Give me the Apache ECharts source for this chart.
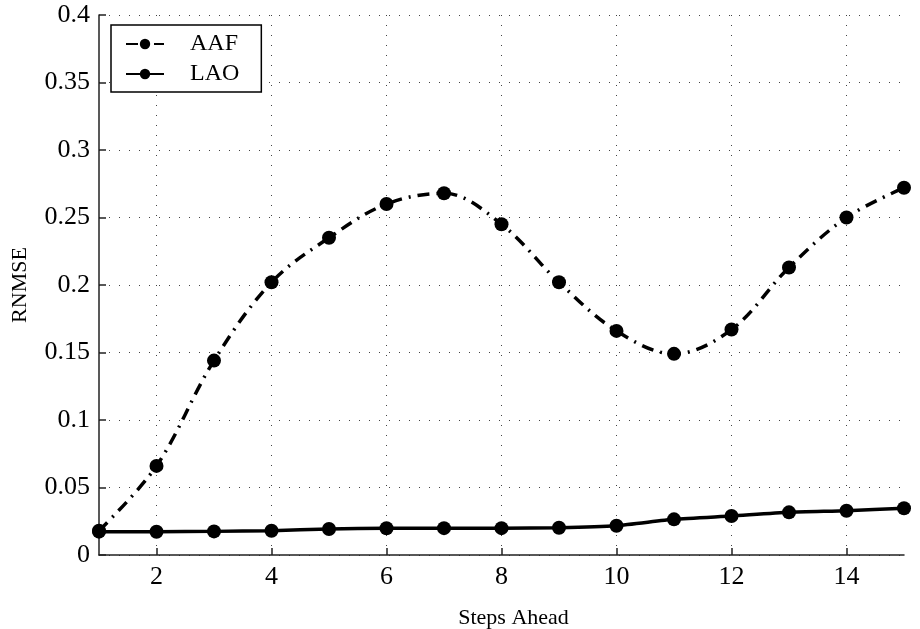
<!DOCTYPE html>
<html>
<head>
<meta charset="utf-8">
<title>RNMSE vs Steps Ahead</title>
<script src="https://cdn.jsdelivr.net/npm/echarts@6/dist/echarts.min.js"></script>
<style>
  html, body { margin: 0; padding: 0; background: #fff; }
  #chart { width: 920px; height: 629px; }
</style>
</head>
<body>
<div id="chart"></div>
<script>
// data
const steps = [1, 2, 3, 4, 5, 6, 7, 8, 9, 10, 11, 12, 13, 14, 15]
const aafValues = [0.018, 0.066, 0.144, 0.202, 0.235, 0.260, 0.268, 0.245, 0.202, 0.166, 0.149, 0.167, 0.213, 0.250, 0.272]
const laoValues = [0.0173, 0.0172, 0.0175, 0.018, 0.0193, 0.0198, 0.0199, 0.0199, 0.0202, 0.0217, 0.0264, 0.0289, 0.0316, 0.0328, 0.0346]
const xTicks = [2, 4, 6, 8, 10, 12, 14]
const seriesNames = ['AAF', 'LAO']

const serif = 'Liberation Serif'

/**
 * pair each step with its value for the value-type x axis
 */
function toPoints(values) {
  return steps.map((s, i) => {
    return [s, values[i]]
  })
}

function initChart() {
  const chartInstance = echarts.init(document.getElementById('chart'))
  // dotted grid like the matlab figure
  const gridLine = {
    show: true,
    lineStyle: {
      color: '#444',
      width: 1,
      type: [1, 9]
    }
  }
  const option = {
    animation: false,
    backgroundColor: '#fff',
    grid: {
      left: 99,
      right: 16,
      top: 15,
      bottom: 74,
      // keep the plot box where it is, names may sit near the edge
      outerBoundsMode: 'none'
    },
    legend: {
      data: seriesNames,
      orient: 'vertical',
      left: 111,
      top: 25,
      padding: [7, 22, 6, 14],
      itemGap: 6,
      itemWidth: 38,
      itemHeight: 13,
      backgroundColor: '#fff',
      borderColor: '#000',
      borderWidth: 1.5,
      textStyle: {
        fontFamily: serif,
        fontSize: 24,
        lineHeight: 24,
        color: '#000',
        padding: [0, 0, 0, 21]
      }
    },
    xAxis: {
      type: 'value',
      min: 1,
      max: 15,
      name: 'Steps Ahead',
      nameLocation: 'middle',
      nameGap: 52,
      nameTextStyle: {
        fontFamily: serif,
        fontSize: 22,
        color: '#000',
        padding: [0, 0, 0, 24]
      },
      axisLine: {
        lineStyle: { color: '#222', width: 1.5 }
      },
      axisTick: {
        inside: true,
        length: 7,
        customValues: xTicks,
        lineStyle: { color: '#222', width: 1.5 }
      },
      axisLabel: {
        customValues: xTicks,
        margin: 9,
        fontFamily: serif,
        fontSize: 26,
        color: '#000'
      },
      splitLine: gridLine
    },
    yAxis: {
      type: 'value',
      min: 0,
      max: 0.4,
      interval: 0.05,
      name: 'RNMSE',
      nameLocation: 'middle',
      nameGap: 68,
      nameTextStyle: {
        fontFamily: serif,
        fontSize: 22,
        color: '#000'
      },
      axisLine: {
        show: true,
        lineStyle: { color: '#222', width: 1.5 }
      },
      axisTick: {
        show: true,
        inside: true,
        length: 7,
        lineStyle: { color: '#222', width: 1.5 }
      },
      axisLabel: {
        margin: 9,
        fontFamily: serif,
        fontSize: 26,
        color: '#000',
        formatter: (v) => {
          return String(+v.toFixed(2))
        }
      },
      splitLine: gridLine
    },
    series: [
      {
        name: seriesNames[0],
        type: 'line',
        data: toPoints(aafValues),
        smooth: 0.35,
        symbol: 'circle',
        symbolSize: 14,
        itemStyle: { color: '#000' },
        lineStyle: {
          color: '#000',
          width: 3.5,
          type: [12, 7, 2, 7]
        }
      },
      {
        name: seriesNames[1],
        type: 'line',
        data: toPoints(laoValues),
        smooth: 0.2,
        symbol: 'circle',
        symbolSize: 14,
        itemStyle: { color: '#000' },
        lineStyle: {
          color: '#000',
          width: 3.5
        }
      }
    ]
  }
  chartInstance.setOption(option)
}

initChart()
</script>
</body>
</html>
